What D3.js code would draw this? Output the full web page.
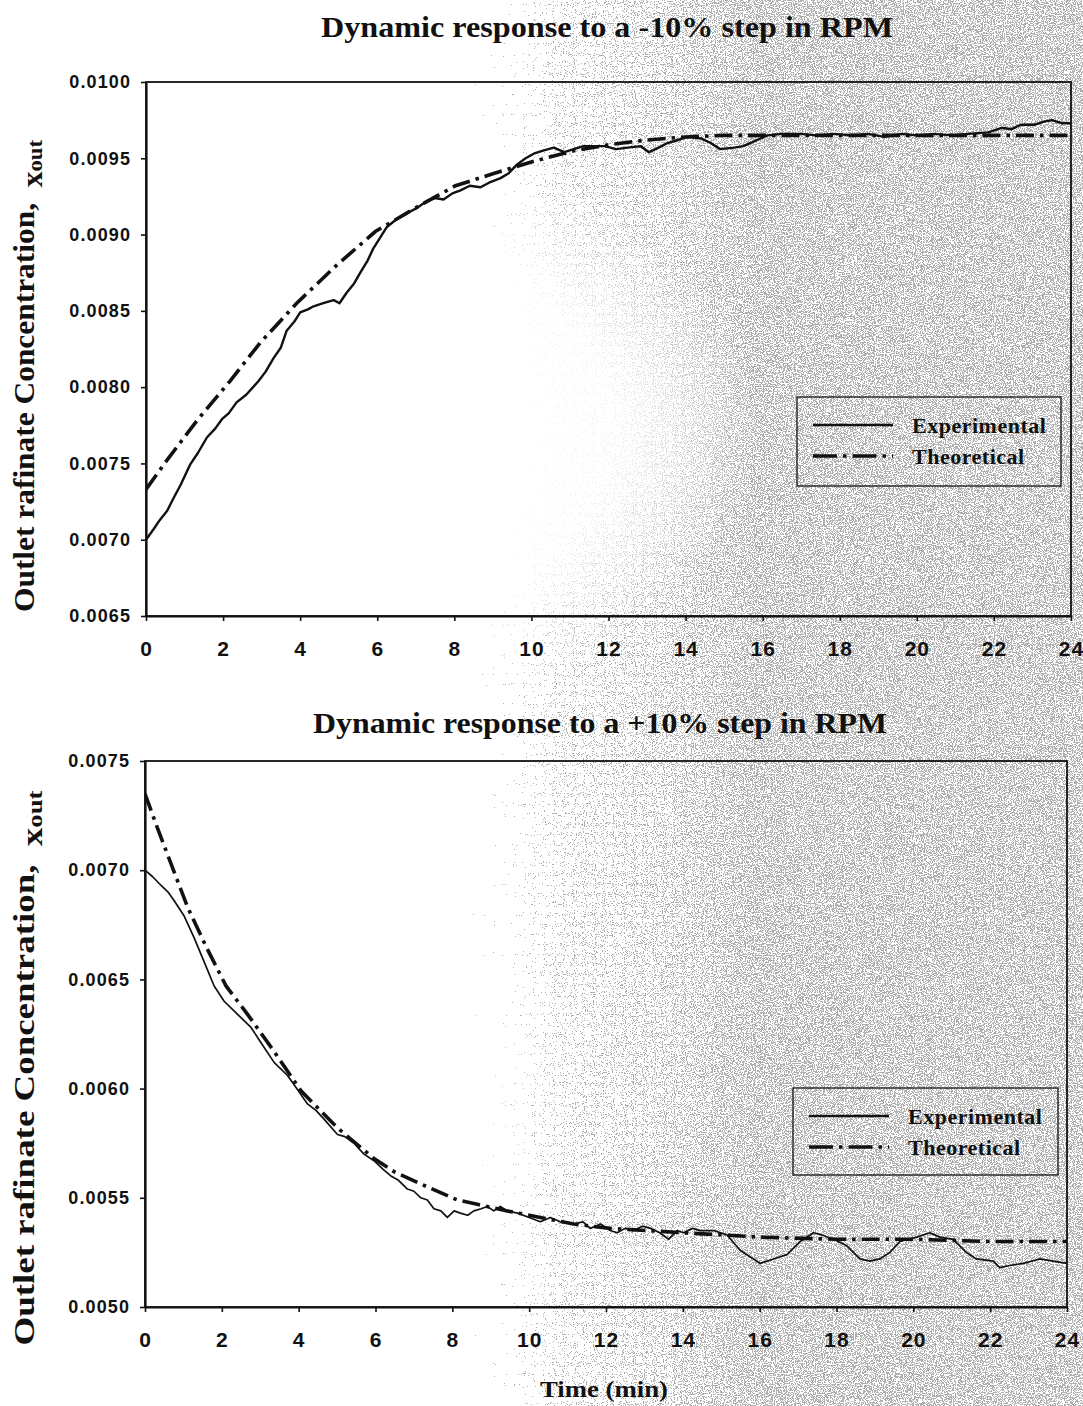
<!DOCTYPE html>
<html>
<head>
<meta charset="utf-8">
<script src="https://cdn.jsdelivr.net/npm/d3@7"></script>
<style>
  html, body { margin: 0; padding: 0; background: #ffffff; }
  svg { display: block; }
</style>
</head>
<body>
<svg id="fig" width="1083" height="1406"></svg>
<script>
// ---------- data ----------
const timeTicks = [0, 2, 4, 6, 8, 10, 12, 14, 16, 18, 20, 22, 24];
const topYTicks = [0.0065, 0.0070, 0.0075, 0.0080, 0.0085, 0.0090, 0.0095, 0.0100];
const bottomYTicks = [0.0050, 0.0055, 0.0060, 0.0065, 0.0070, 0.0075];

const seriesNames = ["Experimental", "Theoretical"];
const titles = ["Dynamic response to a -10% step in RPM", "Dynamic response to a +10% step in RPM"];

// -10% step: experimental response (time in min, x_out)
const downExpTime = [0, 0.2, 0.36, 0.55, 0.71, 0.9, 1.14, 1.35, 1.58, 1.8, 1.97, 2.15, 2.35, 2.6, 2.92, 3.1, 3.31, 3.5, 3.65, 3.85,
  4.0, 4.2, 4.35, 4.6, 4.87, 5.02, 5.21, 5.4, 5.56, 5.75, 5.9, 6.1, 6.25, 6.5, 6.77, 7.0, 7.29, 7.5, 7.72, 7.95,
  8.16, 8.4, 8.68, 8.9, 9.2, 9.4, 9.63, 9.85, 10.06, 10.3, 10.58, 10.85, 11.1, 11.35, 11.62, 11.9, 12.2, 12.5, 12.83, 13.05,
  13.3, 13.53, 13.8, 14.05, 14.4, 14.65, 14.9, 15.26, 15.5, 15.77, 16.12, 16.5, 16.99, 17.4, 17.86, 18.3, 18.73, 19.16, 19.6, 20.0,
  20.46, 20.9, 21.33, 21.85, 22.2, 22.45, 22.7, 23.06, 23.3, 23.5, 23.76, 24.0];
const downExpX = [0.00700, 0.00707, 0.00713, 0.00719, 0.00727, 0.00736, 0.00749, 0.00757, 0.00767, 0.00773, 0.00779, 0.00783, 0.00790, 0.00795, 0.00804, 0.00810, 0.00819, 0.00826, 0.00837, 0.00843,
  0.00849, 0.00851, 0.00853, 0.00855, 0.00857, 0.00855, 0.00862, 0.00868, 0.00875, 0.00883, 0.00891, 0.00899, 0.00905, 0.00910, 0.00914, 0.00917, 0.00922, 0.00924, 0.00923, 0.00927,
  0.00929, 0.00932, 0.00931, 0.00934, 0.00937, 0.00940, 0.00946, 0.00950, 0.00953, 0.00955, 0.00957, 0.00954, 0.00956, 0.00958, 0.00958, 0.00958, 0.00956, 0.00957, 0.00958, 0.00954,
  0.00957, 0.00960, 0.00962, 0.00964, 0.00963, 0.00960, 0.00956, 0.00957, 0.00958, 0.00961, 0.00965, 0.00966, 0.00966, 0.00965, 0.00966, 0.00965, 0.00966, 0.00964, 0.00966, 0.00965,
  0.00966, 0.00965, 0.00966, 0.00967, 0.00970, 0.00969, 0.00972, 0.00972, 0.00974, 0.00975, 0.00973, 0.00973];

// -10% step: model prediction
const downTheoTime = [0, 0.54, 1.32, 2.18, 2.96, 3.91, 4.95, 5.95, 7.03, 8.03, 9.02, 10.06, 11.1, 12.05, 13, 14, 15, 16, 18, 20, 22, 24];
const downTheoX = [0.00733, 0.00752, 0.00778, 0.00804, 0.00829, 0.00855, 0.00880, 0.00902, 0.00918, 0.00932, 0.00940, 0.00948, 0.00955, 0.00959, 0.00962, 0.00964, 0.00965, 0.00965, 0.00965, 0.00965, 0.00965, 0.00965];

// +10% step: experimental response
const upExpTime = [0, 0.2, 0.42, 0.6, 0.76, 1.02, 1.28, 1.54, 1.8, 2.06, 2.41, 2.76, 3.02, 3.36, 3.71, 3.95, 4.23, 4.45, 4.66, 5.01,
  5.2, 5.44, 5.7, 5.96, 6.2, 6.4, 6.6, 6.83, 7.0, 7.18, 7.35, 7.52, 7.7, 7.87, 8.05, 8.21, 8.4, 8.56, 8.75, 8.91,
  9.08, 9.25, 9.43, 9.7, 10.0, 10.29, 10.55, 10.81, 11.16, 11.4, 11.59, 11.86, 12.11, 12.29, 12.5, 12.72, 12.95, 13.16, 13.4, 13.63,
  13.85, 14.02, 14.25, 14.46, 14.8, 15.15, 15.49, 15.84, 16.01, 16.2, 16.36, 16.71, 17.06, 17.4, 17.62, 17.92, 18.27, 18.61, 18.87, 19.13,
  19.39, 19.65, 20.09, 20.43, 20.69, 21.04, 21.38, 21.64, 22.08, 22.25, 22.51, 22.86, 23.29, 23.64, 24.0];
const upExpX = [0.00700, 0.00697, 0.00693, 0.00690, 0.00686, 0.00679, 0.00669, 0.00658, 0.00647, 0.00640, 0.00634, 0.00628, 0.00621, 0.00612, 0.00606, 0.00600, 0.00593, 0.00590, 0.00586, 0.00579,
  0.00578, 0.00575, 0.00570, 0.00567, 0.00563, 0.00560, 0.00558, 0.00554, 0.00553, 0.00550, 0.00549, 0.00545, 0.00544, 0.00541, 0.00544, 0.00543, 0.00542, 0.00544, 0.00545, 0.00546,
  0.00544, 0.00546, 0.00544, 0.00543, 0.00541, 0.00539, 0.00541, 0.00539, 0.00538, 0.00539, 0.00536, 0.00538, 0.00535, 0.00534, 0.00536, 0.00535, 0.00537, 0.00536, 0.00534, 0.00531,
  0.00535, 0.00534, 0.00536, 0.00535, 0.00535, 0.00533, 0.00526, 0.00522, 0.00520, 0.00521, 0.00522, 0.00524, 0.00530, 0.00534, 0.00533, 0.00531, 0.00528, 0.00522, 0.00521, 0.00522,
  0.00525, 0.00530, 0.00532, 0.00534, 0.00532, 0.00531, 0.00525, 0.00522, 0.00521, 0.00518, 0.00519, 0.00520, 0.00522, 0.00521, 0.00520];

// +10% step: model prediction
const upTheoTime = [0, 0.33, 0.72, 1.11, 1.59, 2.11, 2.67, 3.36, 4.06, 5.01, 5.96, 6.48, 7.35, 8.13, 8.65, 9.43, 10.29, 11.16, 12.11, 14, 16, 18, 20, 22, 24];
const upTheoX = [0.00735, 0.00719, 0.00701, 0.00683, 0.00665, 0.00647, 0.00634, 0.00617, 0.00599, 0.00582, 0.00568, 0.00562, 0.00555, 0.00549, 0.00547, 0.00544, 0.00541, 0.00538, 0.00536, 0.00534, 0.00532, 0.00531, 0.00531, 0.00530, 0.00530];

// ---------- drawing ----------
const svg = d3.select("#fig");
const W = 1083, H = 1406;
const serif = "'Liberation Serif', 'Times New Roman', serif";
const sans = "'Liberation Sans', Arial, sans-serif";
const dashDot = "18,6,3.5,6";

// scanned-paper grain on the right-hand side of the page
const defs = svg.append("defs");
const grad = defs.append("linearGradient").attr("id", "hazeGrad")
  .attr("gradientUnits", "userSpaceOnUse").attr("x1", 0).attr("y1", 0).attr("x2", W).attr("y2", 0);
[[0.0, 0], [0.32, 0], [0.52, 0.75], [0.7, 1], [1, 1]].forEach(([o, a]) =>
  grad.append("stop").attr("offset", o).attr("stop-color", "#000").attr("stop-opacity", a));

const clearGrad = defs.append("radialGradient").attr("id", "clearGrad");
clearGrad.append("stop").attr("offset", 0).attr("stop-color", "#000").attr("stop-opacity", 1);
clearGrad.append("stop").attr("offset", 0.6).attr("stop-color", "#000").attr("stop-opacity", 0.85);
clearGrad.append("stop").attr("offset", 1).attr("stop-color", "#000").attr("stop-opacity", 0);

const mask = defs.append("mask").attr("id", "hazeMask")
  .attr("maskUnits", "userSpaceOnUse").attr("x", 0).attr("y", 0).attr("width", W).attr("height", H);
mask.append("rect").attr("width", W).attr("height", H).attr("fill", "#fff");
mask.append("ellipse").attr("cx", 400).attr("cy", 430).attr("rx", 360).attr("ry", 270).attr("fill", "url(#clearGrad)");
mask.append("ellipse").attr("cx", 250).attr("cy", 1120).attr("rx", 300).attr("ry", 300).attr("fill", "url(#clearGrad)");

const grain = defs.append("filter").attr("id", "grain")
  .attr("filterUnits", "userSpaceOnUse").attr("x", 0).attr("y", 0).attr("width", W).attr("height", H);
grain.append("feTurbulence").attr("type", "fractalNoise").attr("baseFrequency", 0.9)
  .attr("numOctaves", 1).attr("seed", 11).attr("result", "noise");
grain.append("feColorMatrix").attr("in", "noise").attr("type", "matrix")
  .attr("values", "0 0 0 0 0  0 0 0 0 0  0 0 0 0 0  1 0 0 0 0").attr("result", "nA");
grain.append("feComposite").attr("in", "nA").attr("in2", "SourceGraphic").attr("operator", "arithmetic")
  .attr("k1", 0).attr("k2", 1).attr("k3", 0.55).attr("k4", -0.55).attr("result", "mix");
const ct = grain.append("feComponentTransfer").attr("in", "mix").attr("result", "dots");
ct.append("feFuncA").attr("type", "discrete").attr("tableValues", "0 1");
grain.append("feFlood").attr("flood-color", "#b0b0b0").attr("result", "ink");
grain.append("feComposite").attr("in", "ink").attr("in2", "dots").attr("operator", "in");

svg.append("rect").attr("width", W).attr("height", H).attr("fill", "#fff");
svg.append("g").attr("mask", "url(#hazeMask)")
  .append("rect").attr("width", W).attr("height", H)
  .attr("fill", "url(#hazeGrad)").attr("filter", "url(#grain)");

const panels = [
  { title: titles[0], titleX: 607, titleY: 37, titleLen: 572,
    left: 146, right: 1071, top: 82, bottom: 616,
    yDomain: [0.0065, 0.0100], yTicks: topYTicks,
    labelCY: 376, labelLen: 472,
    exp: downExpTime.map((t, i) => [t, downExpX[i]]),
    theo: downTheoTime.map((t, i) => [t, downTheoX[i]]),
    expWidth: 2.4,
    legend: { x: 797, y: 397, w: 264, h: 89 } },
  { title: titles[1], titleX: 600, titleY: 733, titleLen: 574,
    left: 145, right: 1067, top: 761, bottom: 1307,
    yDomain: [0.0050, 0.0075], yTicks: bottomYTicks,
    labelCY: 1068, labelLen: 555,
    exp: upExpTime.map((t, i) => [t, upExpX[i]]),
    theo: upTheoTime.map((t, i) => [t, upTheoX[i]]),
    expWidth: 1.7,
    legend: { x: 793, y: 1088, w: 265, h: 87 } }
];

panels.forEach((p, k) => {
  const x = d3.scaleLinear().domain([0, 24]).range([p.left, p.right]);
  const y = d3.scaleLinear().domain(p.yDomain).range([p.bottom, p.top]);
  const g = svg.append("g");

  // title
  g.append("text").attr("x", p.titleX).attr("y", p.titleY)
    .attr("text-anchor", "middle").attr("font-family", serif).attr("font-weight", "bold")
    .attr("font-size", 30).attr("textLength", p.titleLen).attr("lengthAdjust", "spacingAndGlyphs")
    .attr("fill", "#111").text(p.title);

  // plot frame
  g.append("rect").attr("x", p.left).attr("y", p.top)
    .attr("width", p.right - p.left).attr("height", p.bottom - p.top)
    .attr("fill", "none").attr("stroke", "#111").attr("stroke-width", 1.8);

  // y axis
  const ya = g.append("g").attr("transform", `translate(${p.left},0)`)
    .call(d3.axisLeft(y).tickValues(p.yTicks).tickSize(5).tickSizeOuter(0).tickPadding(10)
      .tickFormat(d3.format(".4f")));
  ya.selectAll("text").attr("font-family", sans).attr("font-weight", "bold")
    .attr("font-size", 18).attr("letter-spacing", "1.1px").attr("fill", "#111");

  // x axis
  const xa = g.append("g").attr("transform", `translate(0,${p.bottom})`)
    .call(d3.axisBottom(x).tickValues(timeTicks).tickSize(5).tickSizeOuter(0).tickPadding(20)
      .tickFormat(d3.format("d")));
  xa.selectAll("text").attr("font-family", sans).attr("font-weight", "bold")
    .attr("font-size", 21).attr("letter-spacing", "1px").attr("fill", "#111");

  [ya, xa].forEach(a => {
    a.select(".domain").attr("stroke", "#111").attr("stroke-width", 2.2);
    a.selectAll(".tick line").attr("stroke", "#111").attr("stroke-width", 1.6);
  });

  // y axis title
  const lab = g.append("text")
    .attr("transform", `translate(34,${p.labelCY}) rotate(-90)`)
    .attr("text-anchor", "middle").attr("font-family", serif).attr("font-weight", "bold")
    .attr("font-size", 29).attr("fill", "#111")
    .attr("textLength", p.labelLen).attr("lengthAdjust", "spacingAndGlyphs");
  lab.append("tspan").text("Outlet rafinate Concentration,\u00a0\u00a0");
  lab.append("tspan").attr("dy", 8).text("x");
  lab.append("tspan").attr("font-size", 21).text("out");

  // curves
  const clipId = "clip" + k;
  defs.append("clipPath").attr("id", clipId).append("rect")
    .attr("x", p.left).attr("y", p.top).attr("width", p.right - p.left).attr("height", p.bottom - p.top);
  const line = d3.line().x(d => x(d[0])).y(d => y(d[1]));
  const curves = g.append("g").attr("clip-path", `url(#${clipId})`);
  curves.append("path").datum(p.theo).attr("d", line)
    .attr("fill", "none").attr("stroke", "#111").attr("stroke-width", 3.6)
    .attr("stroke-dasharray", dashDot);
  curves.append("path").datum(p.exp).attr("d", line)
    .attr("fill", "none").attr("stroke", "#111").attr("stroke-width", p.expWidth)
    .attr("stroke-linejoin", "round");

  // legend
  const L = p.legend;
  const lg = g.append("g").attr("transform", `translate(${L.x},${L.y})`);
  lg.append("rect").attr("width", L.w).attr("height", L.h)
    .attr("fill", "none").attr("stroke", "#222").attr("stroke-width", 1.4);
  seriesNames.forEach((name, i) => {
    const yy = 28 + i * 31;
    lg.append("line").attr("x1", 16).attr("x2", 96).attr("y1", yy).attr("y2", yy)
      .attr("stroke", "#111").attr("stroke-width", i === 0 ? 2.4 : 3.6)
      .attr("stroke-dasharray", i === 0 ? null : "24,6,3.5,6");
    lg.append("text").attr("x", 115).attr("y", yy + 8)
      .attr("font-family", serif).attr("font-weight", "bold").attr("font-size", 22)
      .attr("letter-spacing", "0.5px").attr("fill", "#111").text(name);
  });
});

// shared x axis title
svg.append("text").attr("x", 604).attr("y", 1397).attr("text-anchor", "middle")
  .attr("font-family", serif).attr("font-weight", "bold").attr("font-size", 24)
  .attr("textLength", 128).attr("lengthAdjust", "spacingAndGlyphs")
  .attr("fill", "#111").text("Time (min)");
</script>
</body>
</html>
